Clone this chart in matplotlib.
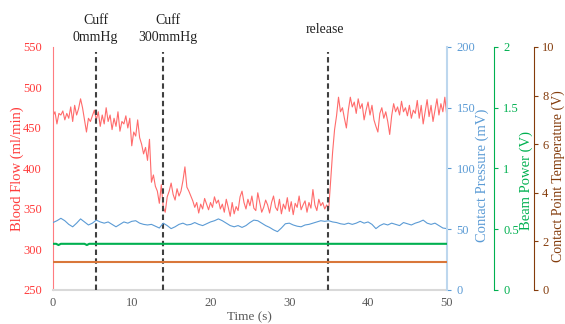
import numpy as np
import matplotlib
matplotlib.use("Agg")
import matplotlib.pyplot as plt

plt.rcParams['font.family'] = ['Liberation Serif', 'DejaVu Serif']

# blood flow (ml/min), sampled every 0.25 s from 0 to 50 s
flow = [465, 470, 455, 468, 466, 471, 460, 468, 462, 476, 458, 478, 466, 474, 486, 475, 460, 445, 462, 458, 465,
        472, 460, 470, 452, 466, 455, 475, 458, 466, 448, 462, 452, 470, 446, 458, 455, 465, 450, 462, 428,
        445, 440, 460, 438, 430, 418, 426, 410, 436, 383, 392, 378, 372, 357, 380, 352,
        346, 365, 372, 382, 368, 361, 375, 366, 372, 385, 402, 377, 372, 366, 360, 352, 358, 345, 356, 350,
        363, 356, 349, 358, 352, 365, 357, 361,
        350, 356, 346, 362, 352, 341, 358, 344, 353, 348, 365, 372, 358, 350, 362, 354, 366, 351, 348, 370,
        358, 346, 352, 361, 355, 345, 358, 366, 352, 348, 362, 344, 356, 350, 364, 347, 359, 343, 357, 352,
        366, 349, 355, 360, 346, 358, 351, 374, 355, 348, 362, 354, 358, 350, 355, 349,
        385, 420, 448, 465, 488, 470, 475, 462, 450, 472, 488, 476, 482, 468, 486, 474, 480, 460, 472, 482,
        466, 478, 460, 452, 445, 468, 475, 462, 470, 458, 442, 465, 480, 470, 476, 466, 483, 470, 475, 465,
        478, 462, 472, 468, 484, 462, 478, 455, 470, 485, 464, 478, 458, 472, 486, 466, 480, 470, 488, 465]
flow_t = np.linspace(0, 50, len(flow))

# contact pressure (mV), every 0.5 s
pressure = [55.5, 57, 59, 57, 54, 52, 55, 58.5, 56, 53.5, 55, 57.5, 56, 55, 56, 54, 52, 54, 56, 55,
            56.5, 57, 55, 54, 53.5, 54, 52.5, 51, 55, 53, 50.5, 52, 54, 55, 53.5, 54, 55.5, 54, 53, 54.5,
            56, 57, 58.5, 57, 55, 53, 52, 53, 51.5, 53, 55.5, 57.5, 57, 55, 53, 51.5, 49.5, 48, 51, 54.5,
            55, 53.5, 52.5, 52, 53.5, 54, 55, 56, 57, 56.5, 57, 56, 55.5, 54.5, 54, 55, 54, 55, 56.5, 55,
            56, 54, 50.5, 53, 54.5, 53.5, 55, 54, 53, 55.5, 54.5, 53.5, 55, 56, 57.5, 55, 54, 55, 53, 51, 50.5]
pressure_t = np.linspace(0, 50, len(pressure))

# beam power (V)
power_t = [0, 0.4, 0.7, 1.0, 4.0, 4.3, 4.6, 50]
power = [0.38, 0.38, 0.37, 0.38, 0.38, 0.37, 0.38, 0.38]

# contact point temperature (V)
temp_t = [0, 50]
temp = [1.15, 1.15]

events = [5.45, 13.95, 34.9]
event_labels = ["Cuff\n0mmHg", "Cuff\n300mmHg", "release"]
event_label_x = [5.4, 14.6, 34.5]

red = '#ff3b3b'
blue = '#5b9bd5'
green = '#00b050'
brown = '#843c0c'
grey = '#595959'

fig = plt.figure(figsize=(5.65, 3.24), dpi=100)
ax = fig.add_axes([0.0938, 0.105, 0.697, 0.750])

ax.plot(flow_t, flow, color='#ff6b6b', lw=0.8)
ax.vlines(events, 250, 544, colors='#404040', lw=1.5, linestyles=(0, (2.6, 1.6)), zorder=5)
for x, s in zip(event_label_x, event_labels):
    ax.text(x, 572, s, ha='center', va='center', fontsize=10, color='#222222', linespacing=1.4, clip_on=False)

ax.set_xlim(0, 50)
ax.set_ylim(250, 550)
ax.set_xticks([0, 10, 20, 30, 40, 50])
ax.set_yticks([250, 300, 350, 400, 450, 500, 550])
ax.tick_params(axis='x', length=0, colors=grey, labelsize=9, pad=5)
ax.tick_params(axis='y', length=0, colors=red, labelsize=9, pad=8)
ax.spines['top'].set_visible(False)
ax.spines['right'].set_visible(False)
ax.spines['left'].set_color('#ff7c80')
ax.spines['bottom'].set_color('#d9d9d9')
ax.spines['bottom'].set_linewidth(1.5)
ax.set_xlabel("Time (s)", color=grey, fontsize=9.5, labelpad=2)
ax.set_ylabel("Blood Flow (ml/min)", color=red, fontsize=10.5)
ax.yaxis.set_label_coords(-0.074, 0.5)

ax2 = ax.twinx()
ax2.plot(pressure_t, pressure, color=blue, lw=0.8)
ax2.set_ylim(0, 200)
ax2.set_yticks([0, 50, 100, 150, 200])
ax2.spines['right'].set_color('#bdd7ee')
ax2.spines['right'].set_linewidth(1.5)
ax2.tick_params(axis='y', colors=blue, labelsize=9, length=3, pad=4)
ax2.set_ylabel("Contact Pressure (mV)", color=blue, fontsize=10.5)
ax2.yaxis.set_label_coords(1.074, 0.47)

ax3 = ax.twinx()
ax3.plot(power_t, power, color=green, lw=1.5)
ax3.set_ylim(0, 2)
ax3.set_yticks([0, 0.5, 1, 1.5, 2])
ax3.set_yticklabels(["0", "0.5", "1", "1.5", "2"])
ax3.spines['right'].set_position(('axes', 1.119))
ax3.spines['right'].set_color(green)
ax3.tick_params(axis='y', colors=green, labelsize=9, length=3, pad=4)
ax3.set_ylabel("Beam Power (V)", color=green, fontsize=10.5)
ax3.yaxis.set_label_coords(1.185, 0.45)

ax4 = ax.twinx()
ax4.plot(temp_t, temp, color='#d9773a', lw=1.5)
ax4.set_ylim(0, 10)
ax4.set_yticks([0, 2, 4, 6, 8, 10])
ax4.spines['right'].set_position(('axes', 1.221))
ax4.spines['right'].set_color(brown)
ax4.tick_params(axis='y', colors=brown, labelsize=9, length=3, pad=3)
ax4.set_ylabel("Contact Point Temperature (V)", color=brown, fontsize=10)
ax4.yaxis.set_label_coords(1.266, 0.47)

for a in (ax2, ax3, ax4):
    for side in ('top', 'left', 'bottom'):
        a.spines[side].set_visible(False)

fig.savefig("out.png", dpi=100)
